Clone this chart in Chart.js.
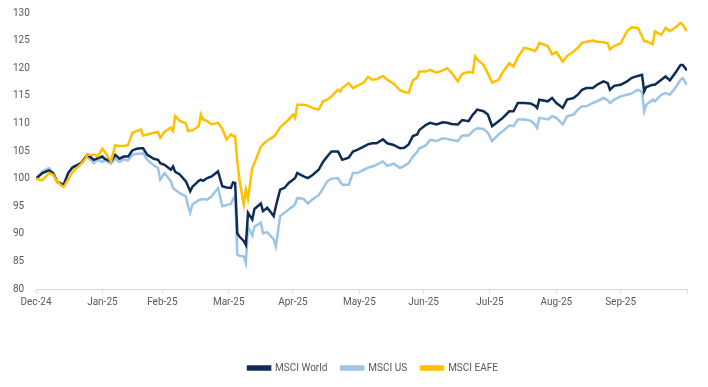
<!DOCTYPE html>
<html>
<head>
<meta charset="utf-8">
<script src="https://cdn.jsdelivr.net/npm/chart.js@4.4.1/dist/chart.umd.min.js"></script>
<style>
  html, body { margin: 0; padding: 0; background: #fff; }
  #wrap { width: 708px; height: 387px; }
</style>
</head>
<body>
<div id="wrap"><canvas id="chart"></canvas></div>
<script>
// Days since 31-Dec-2024 (index level, 31-Dec-2024 = 100)
const days = [
  0, 3, 6, 8, 10, 12, 13, 15, 17, 21, 23, 24, 27, 29, 31, 32, 35, 37, 39, 41,
  43, 45, 47, 49, 50, 52, 55, 57, 58, 60, 63, 64, 65, 67, 70, 71, 72, 73, 76, 77,
  78, 80, 82, 85, 87, 89, 91, 92, 93, 94, 95, 97, 98, 99, 101, 102, 105, 106, 108, 111,
  112, 114, 116, 118, 120, 121, 122, 125, 127, 129, 132, 134, 136, 138, 141, 142, 143, 146, 148, 150,
  153, 155, 157, 159, 162, 164, 167, 170, 172, 174, 176, 178, 179, 182, 184, 187, 190, 192, 194, 197,
  199, 202, 204, 205, 206, 209, 211, 213, 216, 218, 221, 223, 225, 228, 231, 233, 234, 235, 239, 241,
  243, 246, 248, 251, 253, 255, 257, 260, 262, 265, 267, 268, 270, 273, 276, 278, 281, 283, 284, 285,
  288, 289, 292, 294, 296, 299, 301, 302, 304
];

const msciWorld = [
  100.0, 101.0, 101.5, 101.0, 99.4, 99.0, 98.9, 101.0, 102.0, 102.8, 103.8, 104.3, 103.4, 103.7, 104.0, 103.6, 103.1, 104.3, 103.6, 104.0,
  104.0, 105.1, 105.4, 105.5, 105.5, 104.3, 103.6, 103.4, 102.8, 102.5, 101.6, 102.2, 101.2, 100.8, 99.5, 98.6, 97.7, 98.5, 99.6, 99.8,
  99.6, 100.1, 100.4, 101.3, 98.6, 98.4, 98.3, 99.3, 99.2, 90.1, 89.5, 88.7, 88.0, 93.8, 92.6, 94.5, 95.5, 94.1, 94.7, 93.2,
  95.0, 98.0, 98.3, 99.2, 99.8, 100.1, 101.0, 100.4, 100.1, 100.6, 101.6, 103.0, 104.0, 104.9, 104.9, 104.2, 103.4, 103.8, 104.9, 105.2,
  105.8, 106.2, 106.4, 106.4, 107.1, 106.4, 106.1, 105.5, 105.6, 106.2, 107.7, 108.0, 108.8, 109.7, 110.1, 109.8, 110.2, 110.1, 109.9, 109.8,
  110.6, 110.4, 111.6, 112.0, 112.5, 112.2, 111.6, 109.5, 110.4, 111.0, 112.2, 112.2, 113.7, 113.7, 113.6, 113.2, 112.8, 114.3, 114.0, 114.6,
  113.7, 112.8, 114.3, 114.6, 115.2, 116.1, 116.4, 116.4, 117.0, 117.6, 117.3, 116.1, 116.8, 117.0, 117.6, 118.2, 118.6, 118.8, 115.8, 116.6,
  117.0, 117.0, 117.9, 118.5, 117.8, 119.4, 120.6, 120.6, 119.6
];

const msciUS = [
  100.0, 101.3, 101.9, 101.0, 99.3, 99.1, 99.0, 101.0, 102.0, 102.8, 103.6, 104.0, 102.8, 103.4, 103.0, 103.3, 102.7, 103.6, 103.0, 103.5,
  103.3, 104.3, 104.5, 104.5, 104.6, 103.4, 102.4, 101.9, 99.8, 101.0, 99.5, 98.3, 98.0, 97.4, 96.8, 95.0, 93.8, 95.3, 96.1, 96.2,
  96.3, 96.2, 96.8, 98.3, 95.0, 95.2, 95.4, 96.3, 96.8, 86.2, 86.0, 85.9, 84.7, 91.3, 89.7, 91.3, 92.0, 90.1, 90.3, 89.0,
  87.7, 93.2, 93.8, 94.4, 95.0, 95.4, 96.5, 96.3, 95.5, 96.2, 97.0, 98.2, 99.5, 100.0, 100.1, 99.5, 98.9, 98.9, 101.0, 101.0,
  101.6, 102.0, 102.2, 102.5, 103.1, 102.3, 102.7, 101.9, 102.3, 102.8, 104.0, 104.8, 105.5, 106.0, 107.0, 106.8, 107.3, 107.2, 107.0, 106.8,
  107.8, 107.8, 108.6, 108.9, 109.1, 109.0, 108.3, 106.8, 108.0, 108.6, 109.6, 109.5, 110.7, 110.7, 110.5, 109.8, 109.2, 111.0, 110.7, 111.3,
  111.0, 109.8, 111.3, 111.6, 112.5, 113.1, 113.1, 113.7, 114.0, 114.6, 114.2, 113.7, 114.3, 114.9, 115.2, 115.4, 116.1, 115.7, 112.2, 113.4,
  114.3, 114.0, 115.2, 115.5, 115.2, 116.7, 117.9, 118.2, 117.0
];

const msciEAFE = [
  100.0, 99.7, 101.0, 100.7, 99.4, 98.7, 98.5, 99.8, 101.2, 102.6, 103.6, 104.3, 104.3, 104.1, 105.4, 104.9, 103.1, 106.0, 105.9, 105.9,
  106.1, 108.3, 108.6, 108.9, 107.8, 108.0, 108.3, 108.4, 107.4, 108.5, 109.2, 108.6, 111.3, 110.5, 110.0, 108.6, 108.7, 108.7, 109.5, 111.6,
  110.7, 110.4, 109.8, 110.1, 109.0, 107.1, 108.0, 107.7, 107.7, 103.0, 99.8, 95.3, 98.0, 96.4, 102.0, 102.8, 105.8, 106.2, 106.9, 107.6,
  108.0, 109.3, 110.0, 110.7, 111.6, 111.0, 113.4, 113.4, 113.2, 112.8, 112.5, 114.0, 114.3, 114.9, 116.1, 115.8, 116.4, 117.3, 116.4, 116.8,
  117.4, 118.4, 117.9, 118.0, 118.6, 117.9, 117.2, 116.0, 115.7, 115.5, 117.8, 118.3, 119.4, 119.4, 119.7, 119.2, 119.6, 120.0, 119.2, 117.6,
  119.0, 119.3, 119.2, 122.1, 121.6, 120.6, 119.0, 117.4, 117.9, 119.3, 120.9, 120.3, 122.0, 123.7, 123.4, 123.1, 123.6, 124.6, 124.0, 122.5,
  122.9, 121.2, 122.2, 123.0, 123.7, 124.6, 124.8, 125.0, 124.8, 124.7, 124.5, 123.4, 124.0, 124.5, 126.7, 127.4, 127.3, 125.8, 124.9, 124.9,
  124.3, 126.7, 126.0, 127.3, 126.7, 127.5, 128.2, 127.9, 126.7
];

// Axis tick positions (month ends) and their labels
const monthTicks = [0, 31, 59, 90, 120, 151, 181, 212, 243, 273, 304];
const monthLabels = ['Dec-24', 'Jan-25', 'Feb-25', 'Mar-25', 'Apr-25', 'May-25', 'Jun-25', 'Jul-25', 'Aug-25', 'Sep-25', ''];
const yTicks = [80, 85, 90, 95, 100, 105, 110, 115, 120, 125, 130];

const seriesNames = ['MSCI World', 'MSCI US', 'MSCI EAFE'];
const seriesColors = ['#0e2c54', '#9dc3e6', '#ffc000'];

const toPoints = vals => days.map((d, i) => ({ x: d, y: vals[i] }));

Chart.defaults.font.family = 'Roboto, "Liberation Sans", sans-serif';
Chart.defaults.color = '#595959';

// nudge the legend a little to the right, like the original
const legendShift = {
  id: 'legendShift',
  afterLayout(chart) {
    const lg = chart.legend;
    if (lg) { lg.left += 23; lg.right += 23; }
  }
};

const ctx = document.getElementById('chart').getContext('2d');
new Chart(ctx, {
  type: 'line',
  data: {
    datasets: [msciWorld, msciUS, msciEAFE].map((vals, i) => ({
      label: seriesNames[i],
      data: toPoints(vals),
      borderColor: seriesColors[i],
      backgroundColor: seriesColors[i],
      borderWidth: 2.5,
      pointRadius: 0,
      tension: 0,
      order: [1, 2, 0][i]
    }))
  },
  options: {
    responsive: true,
    maintainAspectRatio: false,
    animation: false,
    layout: { padding: { left: 13, right: 21, top: 13, bottom: 4 } },
    scales: {
      x: {
        type: 'linear',
        min: 0,
        max: 304,
        afterBuildTicks: scale => { scale.ticks = monthTicks.map(v => ({ value: v })); },
        afterFit: scale => { scale.height = 60; },
        ticks: {
          autoSkip: false,
          maxRotation: 0,
          padding: 3,
          font: { size: 10 },
          callback: (v, i) => monthLabels[i]
        },
        grid: { drawOnChartArea: false, drawTicks: true, tickLength: 4, color: '#d9d9d9' },
        border: { color: '#d9d9d9', width: 1 }
      },
      y: {
        min: 80,
        max: 130,
        afterBuildTicks: scale => { scale.ticks = yTicks.map(v => ({ value: v })); },
        afterFit: scale => { scale.width = 23; },
        ticks: { crossAlign: 'far', padding: 4, font: { size: 10 } },
        grid: { display: false },
        border: { display: false }
      }
    },
    plugins: {
      legend: {
        position: 'bottom',
        labels: {
          boxWidth: 22,
          boxHeight: 3,
          padding: 14,
          font: { size: 10 },
          sort: (a, b) => a.datasetIndex - b.datasetIndex
        }
      },
      tooltip: { enabled: false }
    }
  },
  plugins: [legendShift]
});
</script>
</body>
</html>
